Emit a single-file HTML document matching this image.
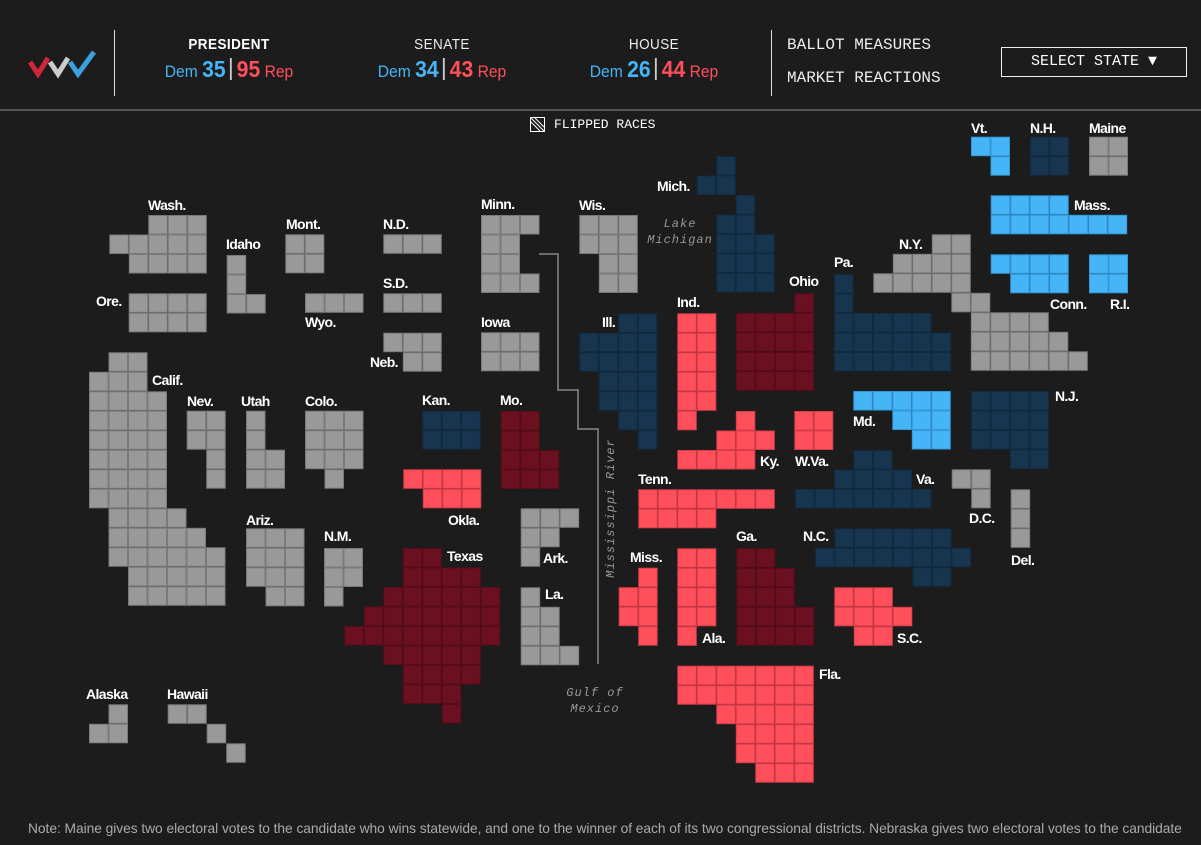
<!DOCTYPE html>
<html><head><meta charset="utf-8">
<style>
body{margin:0;background:#1c1c1c;width:1201px;height:845px;overflow:hidden;font-family:"Liberation Sans",sans-serif;position:relative;color:#fff}
.hdr{position:absolute;left:0;top:0;width:1201px;height:109px;border-bottom:2px solid #555}
.vline{position:absolute;width:1px;background:#ddd;top:30px;height:66px}
.race{position:absolute;top:36px;width:160px;text-align:center}
.race .t{font-size:15px;letter-spacing:0.5px;color:#eee;transform:scaleX(0.9)}
.race .s{margin-top:3px;font-size:17px;white-space:nowrap;transform:scaleX(0.92)}
.dem{color:#45b5f8}.rep{color:#ff4f5b}
.big{font-size:23px;font-weight:bold}
.sep{display:inline-block;width:2px;height:22px;background:#ccc;vertical-align:-3px;margin:0 5px}
.menu{position:absolute;left:787px;font-family:"Liberation Mono",monospace;font-size:16px;color:#eee}
.btn{position:absolute;left:1001px;top:47px;width:184px;height:28px;border:1px solid #eee;font-family:"Liberation Mono",monospace;font-size:15px;line-height:28px;text-align:center;color:#fff}
.lab{position:absolute;font-size:14px;font-weight:bold;color:#fff;letter-spacing:-0.6px;white-space:nowrap;transform:translateY(-50%)}
.geo{position:absolute;font-family:"Liberation Mono",monospace;font-style:italic;font-size:12px;color:#999;text-align:center;line-height:16px;letter-spacing:1px;white-space:nowrap}
.note{position:absolute;left:28px;top:821px;font-size:13.8px;color:#aaa;white-space:nowrap;letter-spacing:-0.05px}
</style></head><body>
<div class="hdr">
  <svg style="position:absolute;left:28px;top:50px" width="72" height="30">
    <polyline points="2,12 10,24 20,8" fill="none" stroke="#d0263b" stroke-width="5"/>
    <polyline points="22,12 30,24 40,8" fill="none" stroke="#ccc" stroke-width="5"/>
    <polyline points="42,12 50,24 66,2" fill="none" stroke="#3aa0e0" stroke-width="5"/>
  </svg>
  <div class="vline" style="left:114px"></div>
  <div class="race" style="left:149px"><div class="t" style="font-weight:bold;color:#fff">PRESIDENT</div><div class="s"><span class="dem">Dem <span class="big">35</span></span><span class="sep"></span><span class="rep"><span class="big">95</span> Rep</span></div></div>
  <div class="race" style="left:362px"><div class="t">SENATE</div><div class="s"><span class="dem">Dem <span class="big">34</span></span><span class="sep"></span><span class="rep"><span class="big">43</span> Rep</span></div></div>
  <div class="race" style="left:574px"><div class="t">HOUSE</div><div class="s"><span class="dem">Dem <span class="big">26</span></span><span class="sep"></span><span class="rep"><span class="big">44</span> Rep</span></div></div>
  <div class="vline" style="left:771px"></div>
  <div class="menu" style="top:36px">BALLOT MEASURES</div>
  <div class="menu" style="top:69px">MARKET REACTIONS</div>
  <div class="btn">SELECT STATE ▼</div>
</div>
<svg style="position:absolute;left:530px;top:117px" width="16" height="15">
  <rect x="0.5" y="0.5" width="14" height="14" fill="none" stroke="#fff"/>
  <line x1="1" y1="5" x2="10" y2="14" stroke="#fff"/><line x1="1" y1="1" x2="14" y2="14" stroke="#fff"/><line x1="5" y1="1" x2="14" y2="10" stroke="#fff"/>
</svg>
<div style="position:absolute;left:554px;top:117px;font-family:'Liberation Mono',monospace;font-size:13px;color:#fff">FLIPPED RACES</div>
<svg id="map" style="position:absolute;left:0;top:0" width="1201" height="845"></svg>
<div id="labels"></div>
<div class="geo" style="left:640px;top:216px;width:80px">Lake<br>Michigan</div>
<div class="geo" style="left:555px;top:685px;width:80px">Gulf of<br>Mexico</div>
<div class="geo" style="left:541px;top:500px;width:140px;transform:rotate(-90deg)">Mississippi River</div>
<div class="note">Note: Maine gives two electoral votes to the candidate who wins statewide, and one to the winner of each of its two congressional districts. Nebraska gives two electoral votes to the candidate</div>
<script>
const S=19.5;
const colors={g:["#999","#7a7a7a"],db:["#17354f","#112a40"],lb:["#45b5f8","#3398d6"],lr:["#ff4f5b","#d83d49"],dr:["#6b1020","#560c19"]};
const names=["Wash.","Ore.","Idaho","Mont.","Wyo.","N.D.","S.D.","Neb.","Calif.","Nev.","Utah","Colo.","Kan.","Okla.","Mo.","Ariz.","N.M.","Texas","Ark.","La.","Alaska","Hawaii","Minn.","Iowa","Wis.","Mich.","Ill.","Ind.","Ohio","Ky.","W.Va.","Pa.","N.Y.","Vt.","N.H.","Maine","Mass.","Conn.","R.I.","Md.","N.J.","Va.","D.C.","Del.","Tenn.","N.C.","Miss.","Ala.","Ga.","S.C.","Fla."];
const status=["g","g","g","g","g","g","g","g","g","g","g","g","db","lr","dr","g","g","dr","g","g","g","g","g","g","g","db","db","lr","dr","lr","lr","db","g","lb","db","g","lb","lb","lb","lb","db","db","g","g","lr","db","lr","lr","dr","lr","lr"];
const origins=[[109.3,215],[128.7,293.3],[226.7,255],[285.3,234.3],[305,293.3],[383.3,234.3],[383.3,293.3],[383.3,332.7],[89,352.3],[186.7,410.7],[246,410.7],[305,410.7],[422.3,410.7],[403.3,469.3],[500.7,411],[246,528.3],[324,548],[344.3,548],[520.7,508.3],[520.7,587.3],[89,704.3],[167.7,704.3],[481,215],[481,332.3],[579.3,215],[696.7,156],[579.3,313.3],[677.3,313.3],[736,293.3],[677.3,411],[794.3,411],[834,274],[873.3,234.3],[971,136.7],[1030,136.7],[1089,136.7],[990.7,195.3],[990.7,254.3],[1089,254.3],[853.3,391],[971,391],[795,450],[951.7,469.3],[1010.7,489.3],[638.3,489.3],[815,528.3],[618.7,567.7],[677.3,548.3],[736.3,548.3],[834.3,587.3],[677.3,665.7]];
const shapes=[["..XXX","XXXXX",".XXXX"],["XXXX","XXXX"],["X.","X.","XX"],["XX","XX"],["XXX"],["XXX"],["XXX"],["XXX",".XX"],
[".XX","XXX","XXXX","XXXX","XXXX","XXXX","XXXX","XXXX",".XXXX",".XXXXX",".XXXXXX","..XXXXX","..XXXXX"],
["XX","XX",".X",".X"],["X.","X.","XX","XX"],["XXX","XXX","XXX",".X."],["XXX","XXX"],["XXXX",".XXX"],["XX.","XX.","XXX","XXX"],
["XXX","XXX","XXX",".XX"],["XX","XX","X."],["...XX","...XXXX","..XXXXXX",".XXXXXXX","XXXXXXXX","..XXXXX","...XXXX","...XXX",".....X"],
["XXX","XX.","X.."],["X..","XX.","XX.","XXX"],[".X","XX"],["XX..","..X.","...X"],
["XXX","XX.","XX.","XXX"],["XXX","XXX"],["XXX","XXX",".XX",".XX"],[".X..","XX..","..X.",".XX.",".XXX",".XXX",".XXX"],
["..XX","XXXX","XXXX",".XXX",".XXX","..XX","...X"],["XX","XX","XX","XX","XX","X."],["...X","XXXX","XXXX","XXXX","XXXX"],
["...X.","..XXX","XXXX."],["XX","XX"],["X.....","X.....","XXXXX.","XXXXXX","XXXXXX"],
["...XX",".XXXX","XXXXX","....XX",".....XXXX",".....XXXXX",".....XXXXXX"],["XX",".X"],["XX","XX"],["XX","XX"],
["XXXX...","XXXXXXX"],["XXXX",".XXX"],["XX","XX"],["XXXXX","..XXX","...XX"],["XXXX","XXXX","XXXX","..XX"],
["...XX..","..XXXX.","XXXXXXX"],["XX",".X"],["X","X","X"],["XXXXXXX","XXXX..."],[".XXXXXX","XXXXXXXX",".....XX"],
[".X","XX","XX",".X"],["XX","XX","XX","XX","X."],["XX..","XXX.","XXX.","XXXX","XXXX"],["XXX.","XXXX",".XX."],
["XXXXXXX","XXXXXXX","..XXXXX","...XXXX","...XXXX","....XXX"]];
const labelPos=[[148,205],[96,301],[226,244],[286,224],[305,322],[383,224],[383,283],[370,362],[152,380],[187,401],[241,401],[305,401],[422,400],[448,520],[500,400],[246,520],[324,536],[447,556],[543,558],[545,594],[86,694],[167,694],[481,204],[481,322],[579,205],[657,186],[602,322],[677,302],[789,281],[760,461],[795,461],[834,262],[899,244],[971,128],[1030,128],[1089,128],[1074,205],[1050,304],[1110,304],[853,421],[1055,396],[916,479],[969,518],[1011,560],[638,479],[803,536],[630,557],[702,638],[736,536],[897,638],[819,674]];
const NS="http://www.w3.org/2000/svg";
const svg=document.getElementById('map');
const river=document.createElementNS(NS,'polyline');
river.setAttribute('points','539,254 558,254 558,390 578,390 578,429 598,429 598,664');
river.setAttribute('fill','none');river.setAttribute('stroke','#888');river.setAttribute('stroke-width','1.5');


svg.appendChild(river);
names.forEach((n,i)=>{
  const g=document.createElementNS(NS,'g');
  
  
  const [ox,oy]=origins[i];const c=colors[status[i]];
  shapes[i].forEach((row,r)=>{[...row].forEach((ch,k)=>{
    if(ch!=='X')return;
    const rc=document.createElementNS(NS,'rect');
    rc.setAttribute('x',ox+k*S+0.5);rc.setAttribute('y',oy+r*S+0.5);
    rc.setAttribute('width',S-1);rc.setAttribute('height',S-1);
    rc.setAttribute('fill',c[0]);rc.setAttribute('stroke',c[1]);rc.setAttribute('stroke-width','1');
    
    
    g.appendChild(rc);
  });});
  svg.appendChild(g);
  const d=document.createElement('div');
  d.className='lab';d.textContent=n;
  d.style.left=labelPos[i][0]+'px';d.style.top=labelPos[i][1]+'px';
  
  
  document.getElementById('labels').appendChild(d);
});
</script>
</body></html>
